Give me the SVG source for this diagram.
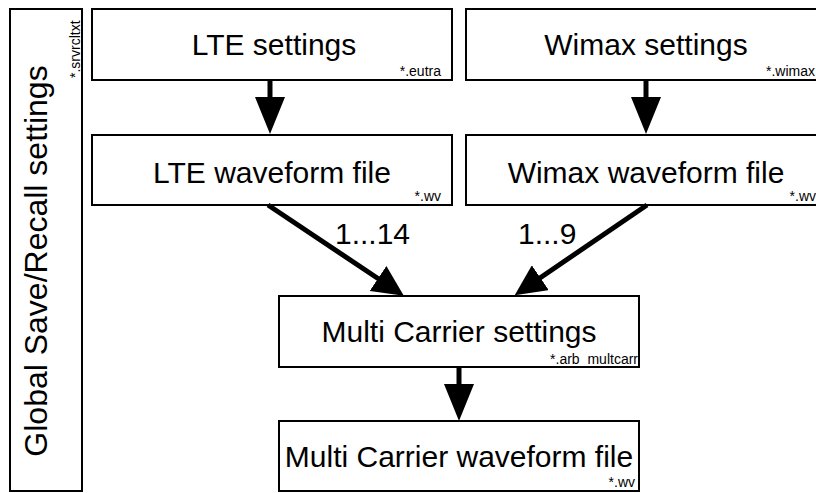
<svg xmlns="http://www.w3.org/2000/svg" width="816" height="493" viewBox="0 0 816 493">
<style>
.box{fill:#fff;stroke:#000;stroke-width:2}
.t{font-family:"Liberation Sans",Arial,sans-serif;font-size:30px;fill:#000}
.c{text-anchor:middle}
.s{font-family:"Liberation Sans",Arial,sans-serif;font-size:14px;fill:#000;text-anchor:end}
.conn{stroke:#000;stroke-width:5;fill:none}
</style>
<defs>
<marker id="ahV" markerUnits="userSpaceOnUse" markerWidth="37" markerHeight="30" refX="10" refY="15" orient="auto"><path d="M0,0 L37,15 L0,30 z" fill="#000"/></marker>
<marker id="ahD" markerUnits="userSpaceOnUse" markerWidth="31" markerHeight="30" refX="8" refY="15" orient="auto"><path d="M0,0 L31,15 L0,30 z" fill="#000"/></marker>
</defs>
<g id="global">
<rect class="box" x="10" y="9" width="72" height="482"/>
<text class="t c" style="font-size:32px" transform="translate(47,261) rotate(-90)">Global Save/Recall settings</text>
<text class="s" style="text-anchor:start" transform="translate(80,78) rotate(-90)">*.srvrcltxt</text>
</g>
<g id="lte-settings">
<rect class="box" x="92" y="9" width="360" height="71"/>
<text class="t c" x="274" y="55">LTE settings</text>
<text class="s" x="441" y="76">*.eutra</text>
</g>
<g id="wimax-settings">
<rect class="box" x="466" y="9" width="360" height="71"/>
<text class="t c" x="646" y="55">Wimax settings</text>
<text class="s" x="815" y="76">*.wimax</text>
</g>
<g id="lte-waveform">
<rect class="box" x="92" y="135" width="360" height="70"/>
<text class="t c" x="272" y="183">LTE waveform file</text>
<text class="s" x="441" y="201">*.wv</text>
</g>
<g id="wimax-waveform">
<rect class="box" x="466" y="135" width="360" height="70"/>
<text class="t c" x="646" y="183">Wimax waveform file</text>
<text class="s" x="816" y="201">*.wv</text>
</g>
<g id="mc-settings">
<rect class="box" x="279" y="296" width="360" height="71"/>
<text class="t c" x="459" y="342">Multi Carrier settings</text>
<text class="s" x="638" y="364">*.arb_multcarr</text>
</g>
<g id="mc-waveform">
<rect class="box" x="279" y="421" width="360" height="70"/>
<text class="t c" x="459" y="467">Multi Carrier waveform file</text>
<text class="s" x="635" y="487">*.wv</text>
</g>
<g id="connectors">
<line class="conn" x1="270" y1="80" x2="270" y2="107" marker-end="url(#ahV)"/>
<line class="conn" x1="646" y1="80" x2="646" y2="107" marker-end="url(#ahV)"/>
<line class="conn" x1="459" y1="367" x2="459" y2="394" marker-end="url(#ahV)"/>
<line class="conn" x1="268" y1="205" x2="384.7" y2="283" marker-end="url(#ahD)"/>
<line class="conn" x1="647" y1="205" x2="533.7" y2="282.2" marker-end="url(#ahD)"/>
<text class="t" x="335" y="244">1...14</text>
<text class="t" x="518" y="244">1...9</text>
</g>
</svg>
